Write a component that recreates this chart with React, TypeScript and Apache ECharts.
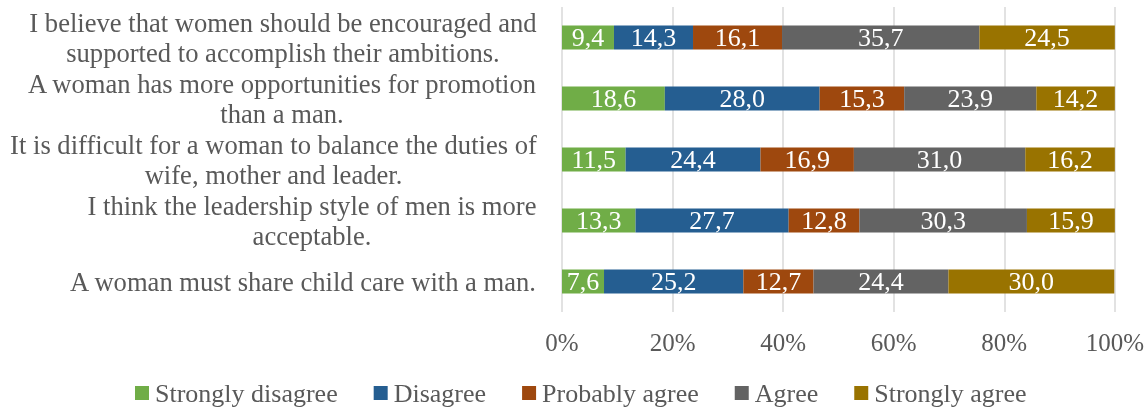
import React, { useEffect, useRef } from "react";
import * as echarts from "echarts";

const categories: string[][] = [
  ["I believe that women should be encouraged and", "supported to accomplish their ambitions."],
  ["A woman has more opportunities for promotion", "than a man."],
  ["It is difficult for a woman to balance the duties of", "wife, mother and leader."],
  ["I think the leadership style of men is more", "acceptable."],
  ["A woman must share child care with a man."],
];

const seriesNames = ["Strongly disagree", "Disagree", "Probably agree", "Agree", "Strongly agree"];
const stronglyDisagree = [9.4, 18.6, 11.5, 13.3, 7.6];
const disagree = [14.3, 28.0, 24.4, 27.7, 25.2];
const probablyAgree = [16.1, 15.3, 16.9, 12.8, 12.7];
const agree = [35.7, 23.9, 31.0, 30.3, 24.4];
const stronglyAgree = [24.5, 14.2, 16.2, 15.9, 30.0];
const seriesValues = [stronglyDisagree, disagree, probablyAgree, agree, stronglyAgree];
const colors = ["#70AD47", "#255E91", "#9E480E", "#636363", "#997300"];
const xTicks = [0, 20, 40, 60, 80, 100];

const FONT = "Liberation Serif";
const TEXT = "#595959";
const CAT_SIZE = 26.6;

export default function App() {
  const ref = useRef<HTMLDivElement>(null);
  useEffect(() => {
    if (!ref.current) return;
    const chart = echarts.init(ref.current, undefined, { renderer: "svg" });
    const ctx = document.createElement("canvas").getContext("2d")!;
    ctx.font = `${CAT_SIZE}px "Liberation Serif"`;
    const rich: Record<string, any> = {};
    const keys = categories.map((lines, i) => {
      const w = Math.ceil(Math.max(...lines.map((l) => ctx.measureText(l).width)));
      rich["c" + i] = { width: w, align: "center", fontSize: CAT_SIZE, fontFamily: FONT, color: TEXT, lineHeight: 30 };
      return lines.map((l) => `{c${i}|${l}}`).join("\n");
    });
    chart.setOption({
      animation: false,
      textStyle: { fontFamily: FONT },
      grid: { left: 562, right: 31, top: 7, bottom: 100, containLabel: false },
      legend: {
        top: 380,
        left: 135,
        padding: 0,
        itemWidth: 14,
        itemHeight: 14,
        itemGap: 36,
        icon: "rect",
        textStyle: { fontFamily: FONT, fontSize: 26, color: TEXT, padding: [0, 0, 0, 1] },
        data: seriesNames,
      },
      xAxis: {
        type: "value",
        min: 0,
        max: 100,
        interval: 20,
        axisLine: { show: false },
        axisTick: { show: false },
        splitLine: { show: true, lineStyle: { color: "#D9D9D9", width: 1.5 } },
        axisLabel: {
          formatter: (v: number) => (xTicks.includes(v) ? `${v}%` : ""),
          fontFamily: FONT,
          fontSize: 25,
          color: TEXT,
          margin: 18,
        },
      },
      yAxis: {
        type: "category",
        inverse: true,
        data: keys,
        axisLine: { show: false },
        axisTick: { show: false },
        splitLine: { show: false },
        axisLabel: {
          margin: 25,
          fontFamily: FONT,
          fontSize: CAT_SIZE,
          color: TEXT,
          formatter: (v: string) => v,
          rich,
        },
      },
      series: seriesNames.map((name, i) => ({
        name,
        type: "bar",
        stack: "total",
        barWidth: 24,
        itemStyle: { color: colors[i] },
        label: {
          show: true,
          position: "inside",
          color: "#FFFFFF",
          fontFamily: FONT,
          fontSize: 26,
          formatter: (p: any) => Number(p.value).toFixed(1).replace(".", ","),
        },
        data: seriesValues[i],
      })),
    });
    return () => chart.dispose();
  }, []);
  return <div ref={ref} style={{ position: "fixed", left: 0, top: 0, width: 1147, height: 412 }} />;
}
